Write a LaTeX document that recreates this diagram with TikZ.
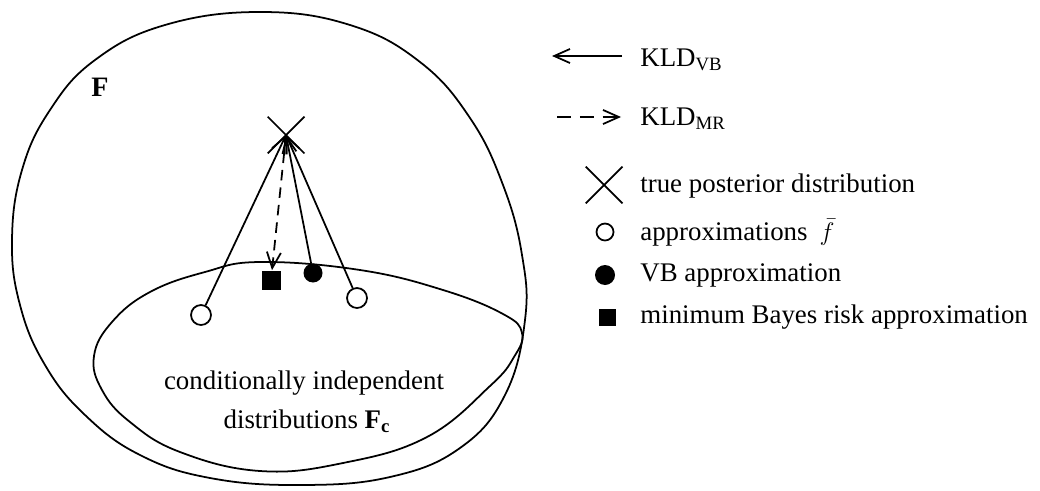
\documentclass[tikz,border=0pt]{standalone}
\usepackage{fontspec}
\setmainfont{Liberation Serif}
\usetikzlibrary{arrows.meta,shapes.misc}

\begin{document}
\begin{tikzpicture}[x=0.02cm, y=-0.02cm,
    font=\fontsize{15.3}{18}\selectfont,
    every node/.style={inner sep=0pt},
    approxpt/.style={circle, draw, line width=1pt, fill=white, minimum size=0.4cm},
    vbpt/.style={circle, fill=black, minimum size=0.38cm},
    mrpt/.style={rectangle, fill=black, minimum size=0.38cm},
    truept/.style={cross out, draw, line width=1pt, minimum size=0.7cm},
    vbline/.style={line width=1pt, -{Straight Barb[length=9pt,width=8pt]}},
    mrline/.style={vbline, dash pattern=on 6pt off 4pt},
    keytext/.style={anchor=west}]
                \useasboundingbox (0,0) rectangle (1040,490);

                % Sets
                \draw[line width=1pt] plot[smooth cycle, tension=0.7] coordinates {
                    (260,12) (350,25) (420,62) (470,118) (503,185) (522,255) (525,320)
                    (505,395) (460,448) (390,477) (300,485) (210,478) (140,455) (85,415)
                    (45,365) (20,305) (12,240) (22,170) (50,110) (95,60) (165,25)};   % F
                \draw[line width=1pt] plot[smooth cycle, tension=0.7] coordinates {
                    (260,262) (360,270) (443,290) (503,314) (522,333) (514,357) (490,386)
                    (427,437) (343,463) (260,471) (180,452) (130,422) (102,390) (94,356)
                    (112,322) (150,292) (205,272)};   % Fc
                \node[font=\bfseries\fontsize{16}{18}\selectfont] (setF) at (100,87) {F};
                \node (condtext) at (304,383) {conditionally independent};
                \node (disttext) at (307,421) {distributions \textbf{F}\textsubscript{\textbf{c}}};

                % Points
                \node[truept] (truepost) at (286,135) {};   % true posterior
                \node[approxpt] (approxL) at (201,315) {};  % approximation
                \node[approxpt] (approxR) at (357,298) {};  % approximation
                \node[vbpt] (vbapprox) at (313,273) {};     % VB
                \node[mrpt] (mrapprox) at (271,280) {};     % minimum Bayes risk

                % Divergences
                \draw[vbline] (approxL) -- (truepost.center);
                \draw[vbline] (vbapprox) -- (truepost.center);
                \draw[vbline] (approxR) -- (truepost.center);
                \draw[mrline] (truepost.center) -- (mrapprox);

                % Legend
                \node[keytext] (vbkey) at (640,60) {KLD\textsubscript{VB}};
                \node[keytext] (mrkey) at (640,119) {KLD\textsubscript{MR}};
                \coordinate (vbkeyA) at (622,56);
                \coordinate (vbkeyB) at (552,56);
                \coordinate (mrkeyA) at (557,117);
                \coordinate (mrkeyB) at (621,117);
                \draw[vbline] (vbkeyA) -- (vbkeyB);
                \draw[mrline, dash pattern=on 8pt off 5pt] (mrkeyA) -- (mrkeyB);
                \node[truept] (truekey) at (604,185) {};
                \node[approxpt, minimum size=0.34cm] (approxkey) at (605,232) {};
                \node[vbpt, minimum size=0.4cm] (vbptkey) at (605,275) {};
                \node[mrpt, minimum size=0.34cm] (mrptkey) at (607,317) {};
                \node[keytext] (truetext) at (640,186) {true posterior distribution};
                \node[keytext] (approxtext) at (640,233) {approximations\hspace{0.45em}$\bar{f}$};
                \node[keytext] (vbtext) at (640,275) {VB approximation};
                \node[keytext] (mrtext) at (640,317) {minimum Bayes risk approximation};
            \end{tikzpicture}
\end{document}
